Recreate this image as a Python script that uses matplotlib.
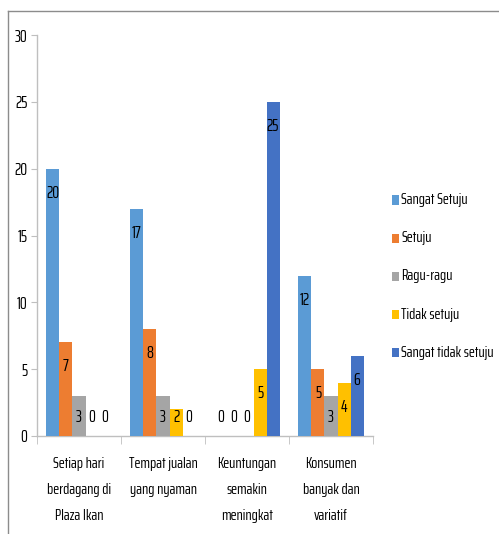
import matplotlib
matplotlib.use("Agg")
import matplotlib.pyplot as plt
import numpy as np
from matplotlib.lines import Line2D
from matplotlib.patches import Rectangle

plt.rcParams["font.family"] = ["Saira ExtraCondensed", "DejaVu Sans"]

categories = ["Setiap hari\nberdagang di\nPlaza Ikan", "Tempat jualan\nyang nyaman",
              "Keuntungan\nsemakin\nmeningkat", "Konsumen\nbanyak dan\nvariatif"]
series_names = ["Sangat Setuju", "Setuju", "Ragu-ragu", "Tidak setuju", "Sangat tidak setuju"]
sangat_setuju = [20, 17, 0, 12]
setuju = [7, 8, 0, 5]
ragu_ragu = [3, 3, 0, 3]
tidak_setuju = [0, 2, 5, 4]
sangat_tidak_setuju = [0, 0, 25, 6]
y_ticks = [0, 5, 10, 15, 20, 25, 30]

values = [sangat_setuju, setuju, ragu_ragu, tidak_setuju, sangat_tidak_setuju]
colors = ["#5B9BD5", "#ED7D31", "#A5A5A5", "#FFC000", "#4472C4"]
FS = 11.5      # words
FS_NUM = 12.5  # numbers (tick and bar labels)

W, H = 499, 534
fig = plt.figure(figsize=(W / 100, H / 100), dpi=100)
ax = fig.add_axes([37 / W, 1 - 436 / H, (373 - 37) / W, (436 - 35) / H])

x = np.arange(len(categories))
w = 0.155
for k, (vals, c) in enumerate(zip(values, colors)):
    pos = x + (k - 2) * w
    ax.bar(pos, vals, width=w, color=c, edgecolor="none", zorder=3)
    # label sits ~24 px under the bar top, never lower than ~19 px above the axis
    for px, v in zip(pos, vals):
        ax.text(px, max(v - 1.8, 1.42), str(v), ha="center", va="center",
                fontsize=FS_NUM, color="black", zorder=4)

ax.set_xlim(-0.5, len(categories) - 0.5)
ax.set_ylim(0, 30)
ax.set_yticks(y_ticks)
ax.tick_params(axis="y", length=4, color="#BFBFBF", labelsize=FS_NUM, pad=3)
ax.set_xticks(x)
ax.set_xticklabels(categories, fontsize=FS, linespacing=2.1)
ax.tick_params(axis="x", which="major", length=0, pad=15)
ax.set_xticks(np.arange(-0.5, len(categories), 1), minor=True)
ax.tick_params(axis="x", which="minor", length=6, color="#BFBFBF")
for s in ["top", "right"]:
    ax.spines[s].set_visible(False)
for s in ["left", "bottom"]:
    ax.spines[s].set_color("#BFBFBF")
    ax.spines[s].set_linewidth(1)

# legend drawn by hand, one row every ~38 px
for i, (name, c) in enumerate(zip(series_names, colors)):
    yc = 200 + i * 38.2
    fig.add_artist(Rectangle((392 / W, 1 - (yc + 4.5) / H), 7 / W, 9 / H,
                             facecolor=c, edgecolor="none", transform=fig.transFigure))
    fig.text(401 / W, 1 - yc / H, name, fontsize=FS, va="center", ha="left")

# outer frame lines (top and left)
fig.add_artist(Line2D([8 / W, 1], [1 - 11 / H, 1 - 11 / H], color="#8C8C8C", lw=1))
fig.add_artist(Line2D([8 / W, 8 / W], [0, 1 - 11 / H], color="#8C8C8C", lw=1))

fig.savefig("out.png", dpi=100)
